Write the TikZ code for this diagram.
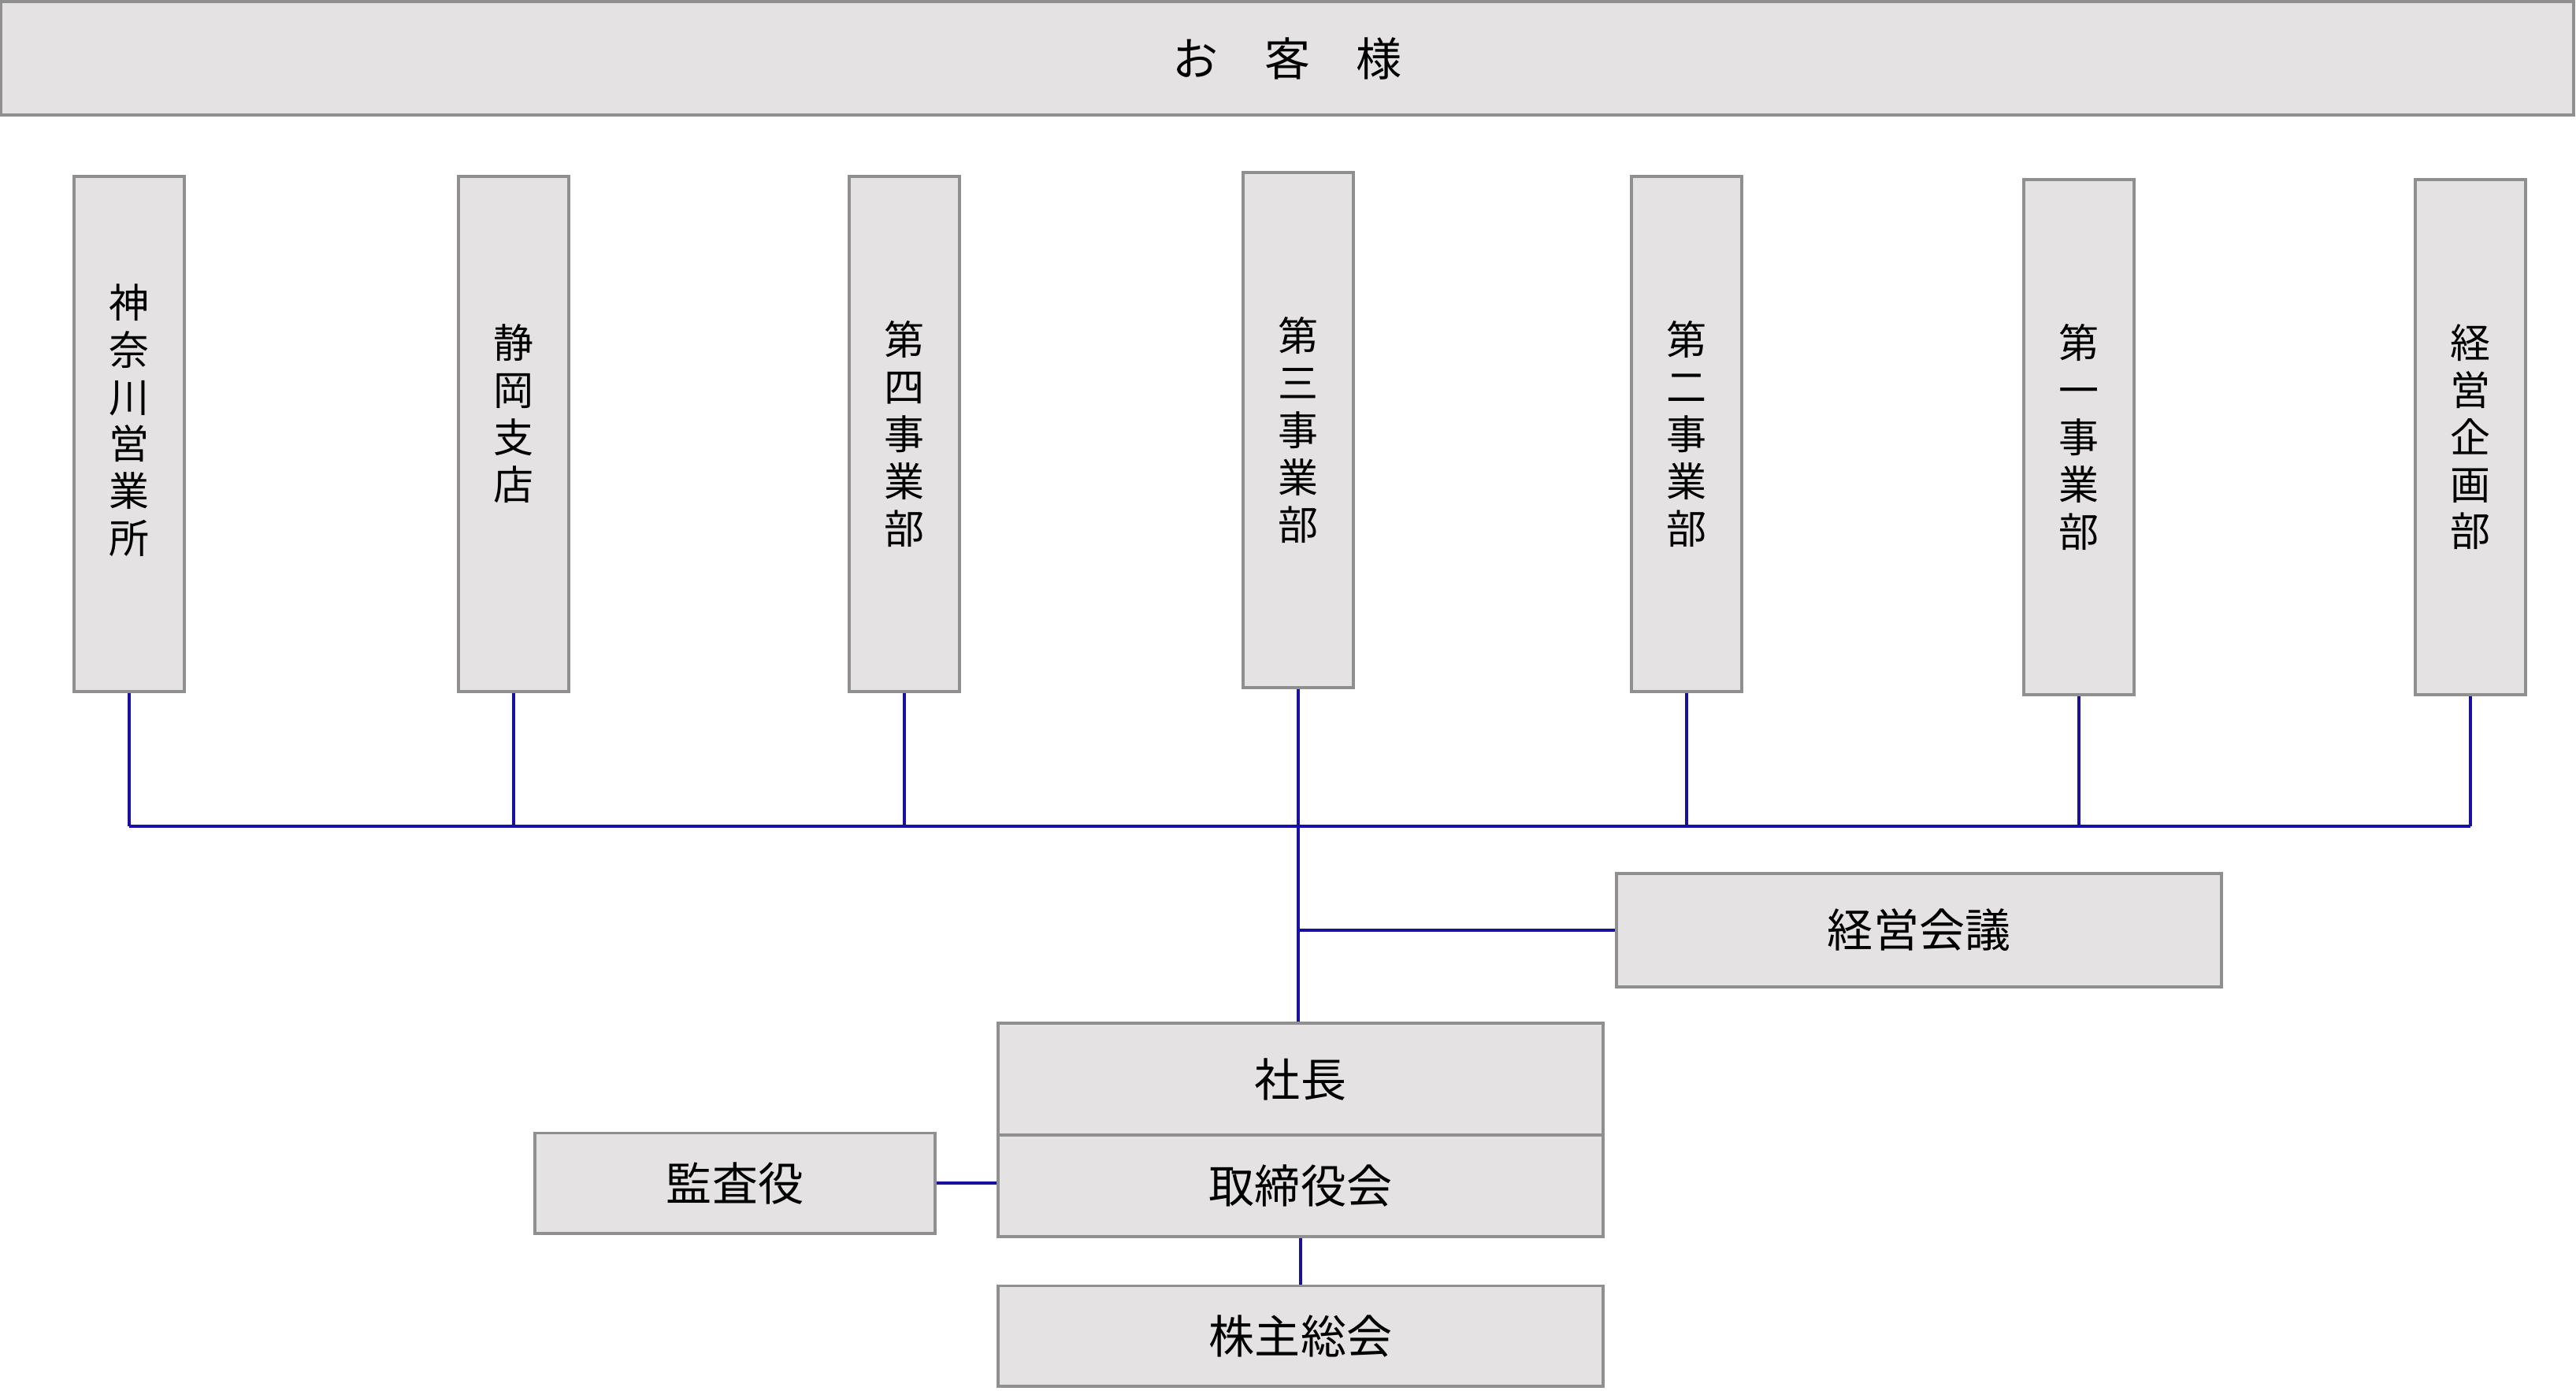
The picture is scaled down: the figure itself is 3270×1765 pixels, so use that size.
\documentclass[tikz,border=0pt]{standalone}
\usepackage{fontspec}
\setmainfont{Noto Sans CJK JP}
\usetikzlibrary{positioning}
\definecolor{boxfill}{HTML}{E4E2E3}
\definecolor{boxline}{HTML}{8F8F8F}
\definecolor{linkblue}{HTML}{1A10A0}

\begin{document}
\begin{tikzpicture}[
  x=0.01cm, y=-0.01cm,
  box/.style={draw=boxline, line width=1.1pt, fill=boxfill, inner sep=0pt, align=center,
    font=\fontsize{16.5}{20}\selectfont},
  dept/.style={box, minimum width=1.40cm, minimum height=6.53cm,
    font=\fontsize{14.5}{17}\selectfont},
  link/.style={draw=linkblue, line width=1.1pt}
]
\useasboundingbox (0,0) rectangle (3270,1765);
\node[box, minimum width=32.64cm, minimum height=1.44cm] (customer) at (1634,74) {お　客　様};
\node[dept, text depth=11pt] (kanagawa) at (164,551) {神\\奈\\川\\営\\業\\所};
\node[dept, text depth=16pt] (shizuoka) at (652,551) {静\\岡\\支\\店};
\node[dept] (div4) at (1148,551) {第\\四\\事\\業\\部};
\node[dept] (div3) at (1648,546) {第\\三\\事\\業\\部};
\node[dept] (div2) at (2141,551) {第\\二\\事\\業\\部};
\node[dept] (div1) at (2639,555) {第\\一\\事\\業\\部};
\node[dept] (planning) at (3136,555) {経\\営\\企\\画\\部};
\coordinate (bus) at (0,1049);
\node[box, minimum width=7.68cm, minimum height=1.44cm] (mgmtmtg) at (2436,1181) {経営会議};
\node[box, minimum width=7.67cm, minimum height=1.42cm] (president) at (1651,1370) {社長};
\node[box, minimum width=7.67cm, minimum height=1.29cm, below=-1.1pt of president] (board) {取締役会};
\node[box, minimum width=5.07cm, minimum height=1.27cm] (auditor) at (933,1502) {監査役};
\node[box, minimum width=7.67cm, minimum height=1.27cm] (shareholders) at (1651,1696) {株主総会};
% connectors
\foreach \n in {kanagawa,shizuoka,div4,div2,div1,planning}
  \draw[link] (\n.south) -- (\n.south |- bus);
\draw[link] (kanagawa.south |- bus) -- (planning.south |- bus);
\draw[link] (div3.south) -- (div3.south |- president.north);
\draw[link] (div3.south |- mgmtmtg.west) -- (mgmtmtg.west);
\draw[link] (auditor.east) -- (auditor.east -| board.west);
\draw[link] (board.south) -- (shareholders.north);
\end{tikzpicture}
\end{document}
